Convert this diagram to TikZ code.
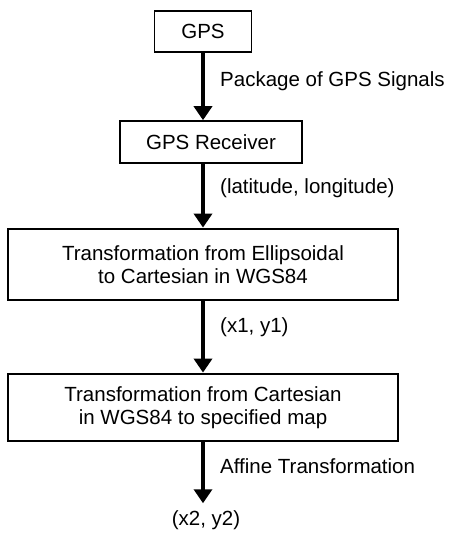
\documentclass[tikz,border=0pt]{standalone}
\usepackage{fontspec}
\setmainfont{Liberation Sans}
\usetikzlibrary{arrows.meta}
\begin{document}
\begin{tikzpicture}[x=1pt,y=1pt,
  txt/.style={font=\fontsize{20.5}{23.5}\selectfont},
  thinbox/.style={txt, draw, line width=1.6pt, inner sep=0pt, align=center},
  thickbox/.style={txt, draw, line width=2.8pt, inner sep=0pt, align=center},
  lbl/.style={txt, anchor=west, inner sep=0pt},
  flow/.style={line width=3.6pt, -{Triangle[width=18pt,length=14pt]}}]
\useasboundingbox (0,0) rectangle (454,-536);
\node[thinbox, minimum width=97pt, minimum height=41pt] (gps) at (203,-31.5) {GPS};
\node[thinbox, minimum width=182pt, minimum height=42pt] (rcv) at (211,-142) {GPS Receiver};
\node[thickbox, minimum width=390pt, minimum height=71pt] (ell) at (203,-264.5) {Transformation from Ellipsoidal\\to Cartesian in WGS84};
\node[thickbox, minimum width=390pt, minimum height=67pt] (car) at (203,-407.5) {Transformation from Cartesian\\in WGS84 to specified map};
\node[txt, inner sep=0pt] (out) at (206,-520) {(x2, y2)};
\draw[flow] (gps.south) -- (gps.south |- rcv.north);
\draw[flow] (gps.south |- rcv.south) -- (gps.south |- ell.north);
\draw[flow] (gps.south |- ell.south) -- (gps.south |- car.north);
\draw[flow] (gps.south |- car.south) -- ([yshift=7pt]gps.south |- out.north);
\node[lbl] (l1) at (220,-81) {Package of GPS Signals};
\node[lbl] (l2) at (220,-188) {(latitude, longitude)};
\node[lbl] (l3) at (220,-327) {(x1, y1)};
\node[lbl] (l4) at (220,-466) {Affine Transformation};
\end{tikzpicture}
\end{document}
